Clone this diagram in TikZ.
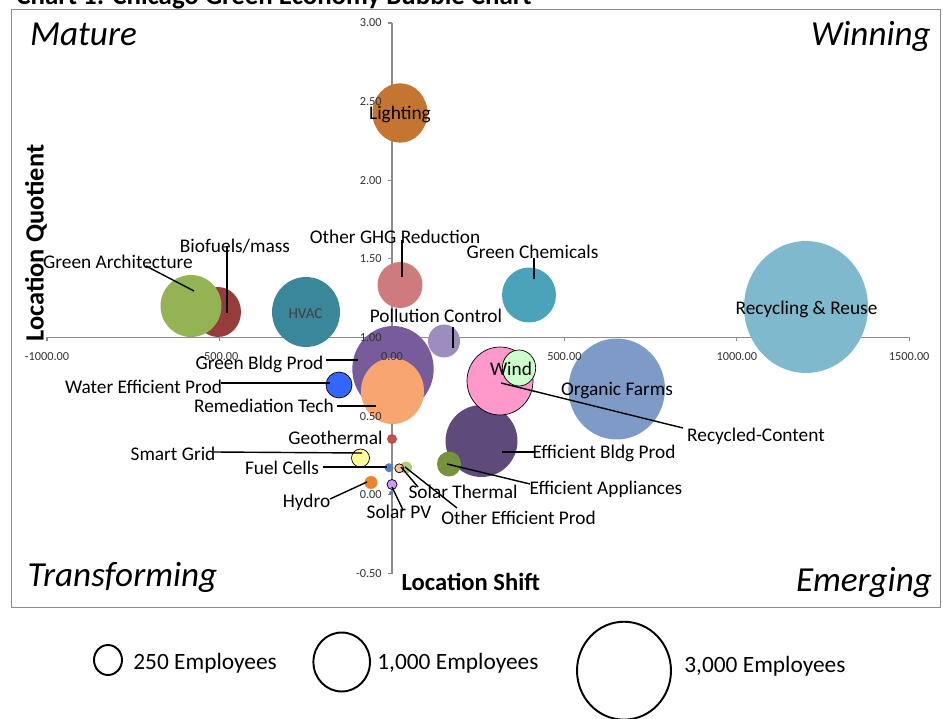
\documentclass[tikz,border=0pt]{standalone}
\usepackage{fontspec}
\setmainfont{Carlito}
\usetikzlibrary{shapes.geometric}

\definecolor{cLight}{HTML}{C47532}
\definecolor{cGhg}{HTML}{CD7B7B}
\definecolor{cGchem}{HTML}{4BA3BA}
\definecolor{cRecy}{HTML}{7FB9CE}
\definecolor{cBio}{HTML}{963C3A}
\definecolor{cGarch}{HTML}{93B355}
\definecolor{cHvac}{HTML}{3A8799}
\definecolor{cPoll}{HTML}{9C8DBE}
\definecolor{cGbp}{HTML}{775B9A}
\definecolor{cRemed}{HTML}{F9A56F}
\definecolor{cWater}{HTML}{3366FF}
\definecolor{cGeo}{HTML}{C0504D}
\definecolor{cSgrid}{HTML}{FFFF99}
\definecolor{cFuel}{HTML}{4F81BD}
\definecolor{cOep}{HTML}{B3CC80}
\definecolor{cSth}{HTML}{FAC090}
\definecolor{cHydro}{HTML}{E8862F}
\definecolor{cSpv}{HTML}{CC99FF}
\definecolor{cRecc}{HTML}{FF99CC}
\definecolor{cWind}{HTML}{CCFFCC}
\definecolor{cOfarm}{HTML}{7E9BC8}
\definecolor{cEbp}{HTML}{5F4A7C}
\definecolor{cEapp}{HTML}{76923C}

\begin{document}
\begin{tikzpicture}[
    x = 0.02cm, y = -0.02cm,
    bub/.style 2 args = {ellipse, inner sep = 0pt, minimum width = #1*0.04cm, minimum height = #2*0.04cm},
    rim/.style = {draw = black, line width = 0.4pt},
    lbl/.style = {inner sep = 0pt, font = \fontsize{11}{13}\selectfont, text height = 7pt, text depth = 0pt},
    ticklbl/.style = {inner sep = 0pt, font = \fontsize{7}{8}\selectfont, text = black!80, text height = 4.5pt, text depth = 0pt},
    quad/.style = {inner sep = 0pt, font = \fontsize{20}{24}\selectfont\itshape, text height = 12.8pt, text depth = 0pt},
    axisline/.style = {draw = black!45, line width = 0.6pt},
    leader/.style = {draw, line width = 0.8pt},
    keyring/.style = {draw, line width = 1.1pt},
  ]
  \useasboundingbox (0,0) rectangle (943,719);

  \node[anchor = base west, inner sep = 0pt, font = \fontsize{15.3}{18}\selectfont\bfseries] (title) at (16,4.5)
    {Chart 1: Chicago Green Economy Bubble Chart};
  \draw[black!45] (11.5,9) rectangle (940,607);

  % axes
  \draw[axisline] (47,337.5) -- (909.2,337.5);
  \foreach \x in {47,219.4,392,564.4,736.8,909.2}
    \draw[axisline] (\x,337.5) -- (\x,341.5);
  \draw[axisline] (392,23) -- (392,574);
  \foreach \i in {0,...,7}
    \draw[axisline] (388,23+\i*78.64) -- (392,23+\i*78.64);

  % bubbles
  \node[bub = {27.5}{29.7}, fill = cLight] (light) at (400,113) {};
  \node[bub = {22.5}{23}, fill = cGhg] (ghg) at (400,285) {};
  \node[bub = {27}{27.5}, fill = cGchem] (gchem) at (529,295) {};
  \node[bub = {62}{66}, fill = cRecy] (recy) at (806,307) {};
  \node[bub = {23}{25}, fill = cBio] (bio) at (218,312) {};
  \node[bub = {30.5}{31}, fill = cGarch] (garch) at (191,306) {};
  \node[bub = {34}{35}, fill = cHvac] (hvac) at (306,312) {};
  \node[bub = {16}{16.5}, fill = cPoll] (poll) at (444,341) {};
  \node[bub = {40.7}{43}, fill = cGbp] (gbp) at (393,369) {};
  \node[bub = {31.5}{33}, fill = cRemed] (remed) at (392.5,391) {};
  \node[bub = {13}{13}, fill = cWater, rim] (water) at (339,385) {};
  \node[bub = {5}{5}, fill = cGeo] (geo) at (392,439) {};
  \node[bub = {9}{9}, fill = cSgrid, rim] (sgrid) at (360.5,458) {};
  \node[bub = {4.5}{4.5}, fill = cFuel] (fuel) at (389,467.7) {};
  \node[bub = {6}{6}, fill = cOep] (oep) at (406,467.5) {};
  \node[bub = {4.5}{4.5}, fill = cSth, rim] (sth) at (399.3,468.3) {};
  \node[bub = {6.5}{6.5}, fill = cHydro] (hydro) at (371,482.5) {};
  \node[bub = {5}{5}, fill = cSpv, rim] (spv) at (392,484.5) {};
  \node[bub = {2}{2}, fill = cFuel] (pvdot) at (391,493) {};
  \node[bub = {48.3}{50.5}, fill = cOfarm] (ofarm) at (616.7,389) {};
  \node[bub = {36}{36}, fill = cEbp] (ebp) at (481.5,441) {};
  \node[bub = {12}{12.5}, fill = cEapp] (eapp) at (449,464) {};
  \node[bub = {33}{34}, fill = cRecc, rim] (recc) at (500,381) {};
  \node[bub = {16.7}{18}, fill = cWind, rim] (wind) at (519,368) {};

  % tick labels
  \foreach \x/\t in {47/-1000.00,219.4/-500.00,392/0.00,564.4/500.00,736.8/1000.00,909.2/1500.00}
    \node[ticklbl] (xl\x) at (\x,357) {\t};
  \foreach \t [count = \i from 0] in {3.00,2.50,2.00,1.50,1.00,0.50,0.00,-0.50}
    \node[ticklbl, anchor = east] (yl\i) at (382,23+\i*78.64) {\t};

  % labels
  \node[lbl] (lLight) at (400,113) {Lighting};
  \node[lbl] (lGhg) at (395,237) {Other GHG Reduction};
  \node[lbl] (lGchem) at (532.5,252) {Green Chemicals};
  \node[lbl] (lRecy) at (806.5,308) {Recycling \& Reuse};
  \node[lbl] (lGarch) at (118,262) {Green Architecture};
  \node[lbl] (lBio) at (235,246) {Biofuels/mass};
  \node[lbl, font = \fontsize{8.6}{10}\selectfont, text = black!75, text height = 5.5pt] (lHvac) at (305.5,314) {HVAC};
  \node[lbl] (lPoll) at (436,316.7) {Pollution Control};
  \node[lbl] (lGbp) at (259.5,363) {Green Bldg Prod};
  \node[lbl] (lWater) at (143.5,387) {Water Efficient Prod};
  \node[lbl] (lRemed) at (264,406) {Remediation Tech};
  \node[lbl] (lGeo) at (335.5,438) {Geothermal};
  \node[lbl] (lSgrid) at (173,454) {Smart Grid};
  \node[lbl] (lFuel) at (282,468) {Fuel Cells};
  \node[lbl] (lHydro) at (306.5,501) {Hydro};
  \node[lbl] (lSpv) at (399,512.7) {Solar PV};
  \node[lbl] (lSth) at (463,492.7) {Solar Thermal};
  \node[lbl] (lOep) at (518.5,518) {Other Efficient Prod};
  \node[lbl] (lWind) at (511,369) {Wind};
  \node[lbl] (lRecc) at (756,435) {Recycled-Content};
  \node[lbl] (lOfarm) at (617,389) {Organic Farms};
  \node[lbl] (lEbp) at (604,452.7) {Efficient Bldg Prod};
  \node[lbl] (lEapp) at (606,488) {Efficient Appliances};

  % leader lines
  \coordinate (ghg-a) at (402,240);     \coordinate (ghg-b) at (402,277);
  \coordinate (gchem-a) at (534,258);   \coordinate (gchem-b) at (534,279);
  \coordinate (garch-a) at (146,266);   \coordinate (garch-b) at (194,291);
  \coordinate (bio-a) at (227,246);     \coordinate (bio-b) at (227,313);
  \coordinate (poll-a) at (453,327);    \coordinate (poll-b) at (453,348);
  \coordinate (gbp-a) at (326,360);     \coordinate (gbp-b) at (358,360);
  \coordinate (water-a) at (221,383);   \coordinate (water-b) at (330,383);
  \coordinate (remed-a) at (337,406);   \coordinate (remed-b) at (376,406);
  \coordinate (sgrid-a) at (214,452);   \coordinate (sgrid-b) at (362,453);
  \coordinate (fuel-a) at (323,467);    \coordinate (fuel-b) at (387,467);
  \coordinate (hydro-a) at (330,499);   \coordinate (hydro-b) at (367,482);
  \coordinate (spv-a) at (392,487);     \coordinate (spv-b) at (403,510);
  \coordinate (sth-a) at (401,467);     \coordinate (sth-b) at (418,487);
  \coordinate (oep-a) at (405,467);     \coordinate (oep-b) at (457,508);
  \coordinate (recc-a) at (501,383);    \coordinate (recc-b) at (683,428);
  \coordinate (ebp-a) at (502,452);     \coordinate (ebp-b) at (535,452);
  \coordinate (eapp-a) at (447,464);    \coordinate (eapp-b) at (530,484);
  \foreach \n in {ghg,gchem,garch,bio,poll,gbp,water,remed,sgrid,fuel,hydro,spv,sth,oep,recc,ebp,eapp}
    \draw[leader] (\n-a) -- (\n-b);

  % quadrants and axis titles
  \node[quad] (mature) at (83.5,34) {Mature};
  \node[quad] (winning) at (871,34) {Winning};
  \node[quad] (transf) at (122.5,575) {Transforming};
  \node[quad] (emerg) at (864,580) {Emerging};
  \node[inner sep = 0pt, rotate = 90, font = \fontsize{15}{18}\selectfont\bfseries, text height = 9.7pt, text depth = 0pt] (lq) at (35,243) {Location Quotient};
  \node[inner sep = 0pt, font = \fontsize{14}{17}\selectfont\bfseries, text height = 9pt, text depth = 0pt] (ls) at (470.8,583) {Location Shift};

  % size key
  \node[bub = {14}{15}, keyring] (k1) at (108,660) {};
  \node[lbl, anchor = west, font = \fontsize{13.3}{16}\selectfont, text height = 8.5pt] (k1t) at (133,661.7) {250 Employees};
  \node[bub = {28.3}{29.5}, keyring] (k2) at (341.7,662) {};
  \node[lbl, anchor = west, font = \fontsize{13.3}{16}\selectfont, text height = 8.5pt] (k2t) at (377,662) {1,000 Employees};
  \node[bub = {47}{49}, keyring] (k3) at (624,670.7) {};
  \node[lbl, anchor = west, font = \fontsize{13.3}{16}\selectfont, text height = 8.5pt] (k3t) at (684,665) {3,000 Employees};
\end{tikzpicture}
\end{document}
